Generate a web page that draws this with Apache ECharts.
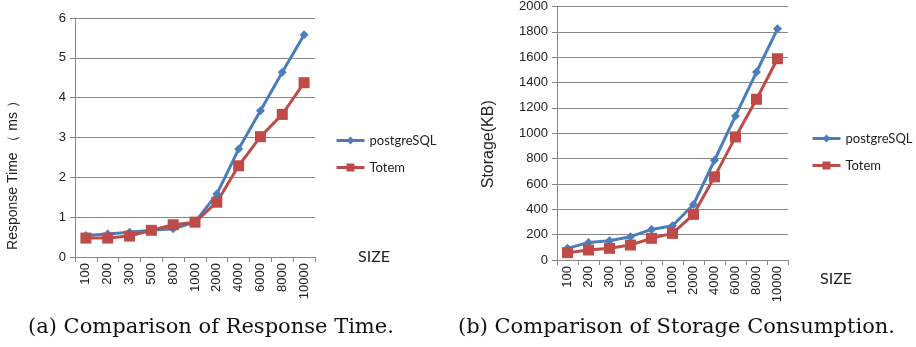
<!DOCTYPE html>
<html><head><meta charset="utf-8">
<script src="https://cdn.jsdelivr.net/npm/echarts@6/dist/echarts.min.js"></script>
<style>html,body{margin:0;padding:0;background:#fff}#c{width:916px;height:347px}</style>
</head><body><div id="c"></div>
<script>
const categories = ['100','200','300','500','800','1000','2000','4000','6000','8000','10000'];
const timePostgre = [0.54,0.58,0.62,0.67,0.71,0.875,1.58,2.71,3.67,4.64,5.58];
const timeTotem = [0.475,0.475,0.525,0.67,0.81,0.875,1.375,2.29,3.02,3.58,4.375];
const storagePostgre = [92,139,152,184,241,270,438,787,1137,1483,1824];
const storageTotem = [58,79,92,118,171,210,360,656,971,1268,1588];
const seriesNames = ['postgreSQL','Totem'];
const captions = ['(a) Comparison of Response Time.','(b) Comparison of Storage Consumption.'];

const blue = '#4A7EBB', red = '#BE4B48';
const sans = '"Liberation Sans", Arial, sans-serif';
const chart = echarts.init(document.getElementById('c'), null, {renderer:'canvas'});
function xAx(gi){return {type:'category',gridIndex:gi,data:categories,boundaryGap:true,
  axisLine:{lineStyle:{color:'#868686',width:1}},axisTick:{show:true,length:5,lineStyle:{color:'#868686'}},
  axisLabel:{rotate:90,fontFamily:sans,fontSize:13,color:'#222',margin:6,interval:0}};}
function yAx(gi,max,iv,name,gap,shift,fs){return {type:'value',gridIndex:gi,min:0,max:max,interval:iv,
  name:name,nameLocation:'middle',nameGap:gap,nameRotate:90,
  nameTextStyle:{fontFamily:sans,fontSize:fs,color:'#222',padding:[0,shift,0,0]},
  axisLine:{show:true,lineStyle:{color:'#868686'}},axisTick:{show:true,length:5,lineStyle:{color:'#868686'}},
  splitLine:{lineStyle:{color:'#868686',width:1}},
  axisLabel:{fontFamily:sans,fontSize:13,color:'#222',margin:9,formatter:function(v){return String(v);}}};}
function ser(name,data,gi,color,sym,size){return {name:name,type:'line',xAxisIndex:gi,yAxisIndex:gi,data:data,
  symbol:sym,symbolSize:size,lineStyle:{color:color,width:3},itemStyle:{color:color},animation:false};}
const legendText = {fontFamily:'Lato, sans-serif',fontSize:13,color:'#222'};
chart.setOption({
  backgroundColor:'#fff',
  animation:false,
  grid:[{left:75,top:18,width:240,height:239},{left:557,top:6,width:231,height:254}],
  xAxis:[xAx(0),xAx(1)],
  yAxis:[yAx(0,6,1,'Response Time （ ms ）',55,69,14),yAx(1,2000,200,'Storage(KB)',60,22,16)],
  legend:[
    {orient:'vertical',left:335,top:134,padding:0,itemWidth:28,itemHeight:10,itemGap:14,data:seriesNames,
     lineStyle:{width:3},textStyle:legendText},
    {orient:'vertical',left:811,top:132,padding:0,itemWidth:28,itemHeight:10,itemGap:14,data:seriesNames,
     lineStyle:{width:3},textStyle:legendText}
  ],
  title:[
    {text:'SIZE',left:358,top:249,padding:0,textStyle:{fontFamily:'Lato, sans-serif',fontSize:16,fontWeight:'normal',color:'#222'}},
    {text:'SIZE',left:820,top:271,padding:0,textStyle:{fontFamily:'Lato, sans-serif',fontSize:16,fontWeight:'normal',color:'#222'}},
    {text:captions[0],left:28,top:317,padding:0,textStyle:{fontFamily:'"DejaVu Serif", serif',fontSize:21,fontWeight:'normal',color:'#111'}},
    {text:captions[1],left:458,top:317,padding:0,textStyle:{fontFamily:'"DejaVu Serif", serif',fontSize:21,fontWeight:'normal',color:'#111'}}
  ],
  series:[
    ser(seriesNames[0],timePostgre,0,blue,'diamond',9),
    ser(seriesNames[1],timeTotem,0,red,'rect',11),
    ser(seriesNames[0],storagePostgre,1,blue,'diamond',9),
    ser(seriesNames[1],storageTotem,1,red,'rect',11)
  ]
});
</script></body></html>
